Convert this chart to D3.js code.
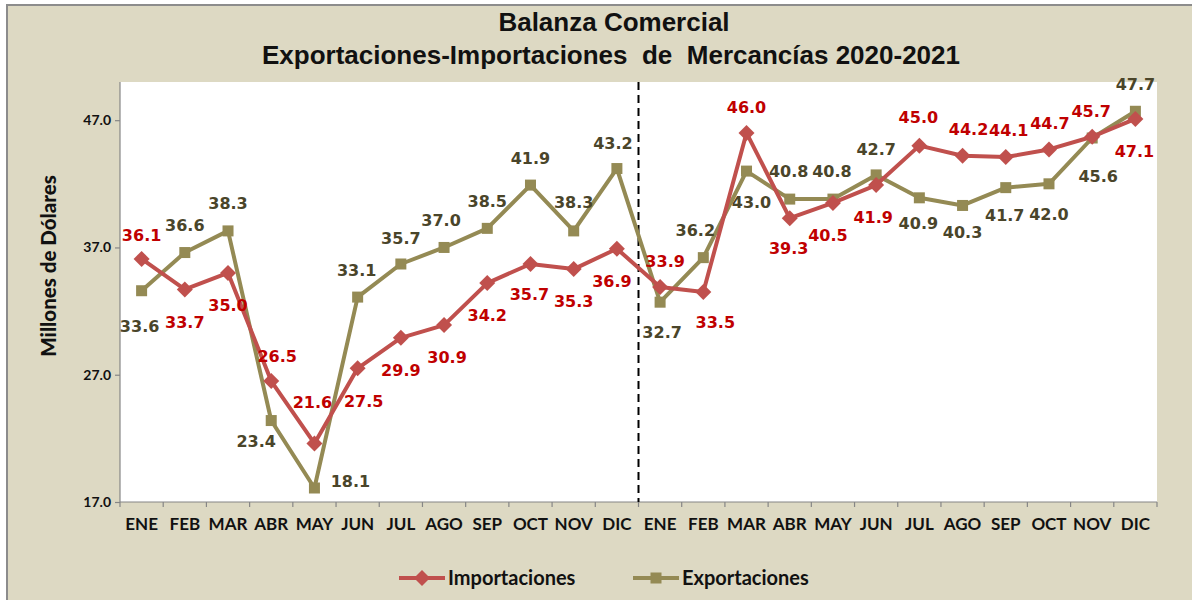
<!DOCTYPE html>
<html>
<head>
<meta charset="utf-8">
<script src="https://cdn.jsdelivr.net/npm/d3@7"></script>
<style>
  html, body { margin: 0; padding: 0; background: #ffffff; }
  svg { display: block; }
</style>
</head>
<body>
<svg id="chart" width="1192" height="600"></svg>
<script>
// Month labels for two consecutive years
const months = ["ENE","FEB","MAR","ABR","MAY","JUN","JUL","AGO","SEP","OCT","NOV","DIC",
                "ENE","FEB","MAR","ABR","MAY","JUN","JUL","AGO","SEP","OCT","NOV","DIC"];

// Monthly values, millions of dollars (2020 then 2021)
const importaciones = [36.1, 33.7, 35.0, 26.5, 21.6, 27.5, 29.9, 30.9, 34.2, 35.7, 35.3, 36.9,
                       33.9, 33.5, 46.0, 39.3, 40.5, 41.9, 45.0, 44.2, 44.1, 44.7, 45.7, 47.1];
const exportaciones = [33.6, 36.6, 38.3, 23.4, 18.1, 33.1, 35.7, 37.0, 38.5, 41.9, 38.3, 43.2,
                       32.7, 36.2, 43.0, 40.8, 40.8, 42.7, 40.9, 40.3, 41.7, 42.0, 45.6, 47.7];

const yTicks = [17, 27, 37, 47];

// Data-label placement: [dx, dy] from the marker centre
const impLabelPos = [[0,-24],[0,33],[0,32],[6,-25],[-2,-41],[6,33],[0,32],[3,32],[0,32],[-1,30],[0,32],[-5,33],
                     [5,-26],[12,30],[0,-26],[-1,30],[-5,32],[-3,32],[-1,-28],[6,-27],[3,-27],[1,-26],[-1,-25],[-1,32]];
const expLabelPos = [[-2,36],[0,-27],[0,-28],[-15,21],[36,-7],[-1,-27],[0,-26],[-3,-27],[0,-27],[0,-27],[0,-29],[-4,-25],
                     [2,30],[-8,-27],[5,31],[-1,-28],[-1,-28],[0,-26],[-1,25],[0,27],[-1,28],[0,30],[6,38],[0,-27]];

const svg = d3.select("#chart");
const W = 1192, H = 600;
const plot = { left: 120, right: 1157, top: 82, bottom: 502 };

// Chart frame
svg.append("rect").attr("x", 7).attr("y", 5).attr("width", W).attr("height", H)
  .attr("fill", "#ddd9c3").attr("stroke", "#8c8c8c").attr("stroke-width", 2);

// Plot area
svg.append("rect").attr("x", plot.left).attr("y", plot.top)
  .attr("width", plot.right - plot.left).attr("height", plot.bottom - plot.top)
  .attr("fill", "#ffffff");

// Title
const title = svg.append("text").attr("text-anchor", "middle")
  .attr("font-family", "Liberation Sans, Arial, sans-serif").attr("font-weight", "bold")
  .attr("font-size", 26).attr("fill", "#111").style("white-space", "pre");
title.append("tspan").attr("x", 614).attr("y", 31).text("Balanza Comercial");
title.append("tspan").attr("x", 611).attr("y", 64).text("Exportaciones-Importaciones  de  Mercancías 2020-2021");

const idx = d3.range(months.length);
const x = d3.scaleBand().domain(idx).range([plot.left, plot.right]).paddingInner(0).paddingOuter(0);
const cx = i => x(i) + x.bandwidth() / 2;
const y = d3.scaleLinear().domain([17, 50]).range([plot.bottom, plot.top]);

// Y axis
const yAxis = svg.append("g").attr("transform", `translate(${plot.left},0)`)
  .call(d3.axisLeft(y).tickValues(yTicks).tickFormat(d3.format(".1f")).tickSize(5).tickPadding(4));
yAxis.select(".domain").attr("stroke", "#868686").attr("stroke-width", 1.2)
  .attr("d", `M0,${plot.top}V${plot.bottom}`);
yAxis.selectAll(".tick line").attr("stroke", "#868686").attr("stroke-width", 1.2);
yAxis.selectAll(".tick text").attr("font-family", "Lato, sans-serif").attr("font-weight", "bold")
  .attr("font-size", 14).attr("fill", "#111");

// X axis: labels centred in bands, tick marks on band edges
const xAxis = svg.append("g").attr("transform", `translate(0,${plot.bottom})`)
  .call(d3.axisBottom(x).tickSize(0).tickPadding(16).tickFormat(i => months[i]));
xAxis.select(".domain").attr("stroke", "#868686").attr("stroke-width", 1.2)
  .attr("d", `M${plot.left},0H${plot.right}`);
xAxis.selectAll(".tick text").attr("font-family", "Lato, sans-serif").attr("font-weight", "bold")
  .attr("font-size", 17).attr("fill", "#111");
xAxis.selectAll(".edge").data(d3.range(months.length + 1)).join("line")
  .attr("class", "edge")
  .attr("x1", i => plot.left + i * x.step()).attr("x2", i => plot.left + i * x.step())
  .attr("y1", 0).attr("y2", 5).attr("stroke", "#868686").attr("stroke-width", 1.2);

// Y axis title
svg.append("text").attr("transform", `translate(56,${(plot.top + plot.bottom) / 2 - 26}) rotate(-90)`)
  .attr("text-anchor", "middle").attr("font-family", "Lato, sans-serif").attr("font-weight", "900")
  .attr("font-size", 20.5).attr("fill", "#111").text("Millones de Dólares");

// Year separator
const sepX = plot.left + 12 * x.step();
svg.append("line").attr("x1", sepX).attr("x2", sepX).attr("y1", plot.top).attr("y2", plot.bottom)
  .attr("stroke", "#000").attr("stroke-width", 2).attr("stroke-dasharray", "8,5");

const series = [
  { name: "Exportaciones", values: exportaciones, color: "#948a54", labelColor: "#4a452a", marker: "square", pos: expLabelPos },
  { name: "Importaciones", values: importaciones, color: "#c0504d", labelColor: "#c00000", marker: "diamond", pos: impLabelPos }
];

const line = d3.line().x((d, i) => cx(i)).y(d => y(d));
const diamondPath = "M0,-8L8,0L0,8L-8,0Z";

function drawMarker(g, type, color) {
  if (type === "square") {
    g.append("rect").attr("x", -5.5).attr("y", -5.5).attr("width", 11).attr("height", 11).attr("fill", color);
  } else {
    g.append("path").attr("d", diamondPath).attr("fill", color);
  }
}

series.forEach(s => {
  svg.append("path").datum(s.values).attr("d", line).attr("fill", "none")
    .attr("stroke", s.color).attr("stroke-width", 4).attr("stroke-linejoin", "round");
  svg.append("g").selectAll("g").data(s.values).join("g")
    .attr("transform", (d, i) => `translate(${cx(i)},${y(d)})`)
    .each(function () { drawMarker(d3.select(this), s.marker, s.color); });
});

// Data labels
series.forEach(s => {
  svg.append("g").selectAll("text").data(s.values).join("text")
    .attr("x", (d, i) => cx(i) + s.pos[i][0])
    .attr("y", (d, i) => y(d) + s.pos[i][1])
    .attr("dy", "0.36em").attr("text-anchor", "middle")
    .attr("font-family", "DejaVu Sans, sans-serif").attr("font-weight", "bold")
    .attr("font-size", 16).attr("fill", s.labelColor)
    .text(d => d3.format(".1f")(d));
});

// Legend
const legendItems = [
  { name: "Importaciones", color: "#c0504d", marker: "diamond", x0: 399 },
  { name: "Exportaciones", color: "#948a54", marker: "square", x0: 633 }
];
const lg = svg.append("g").attr("transform", "translate(0,578)");
legendItems.forEach(it => {
  const g = lg.append("g").attr("transform", `translate(${it.x0},0)`);
  g.append("line").attr("x1", 0).attr("x2", 46).attr("stroke", it.color).attr("stroke-width", 4);
  const m = g.append("g").attr("transform", "translate(23,0)");
  drawMarker(m, it.marker, it.color);
  g.append("text").attr("x", 49).attr("dy", "0.36em").attr("font-family", "Lato, sans-serif")
    .attr("font-weight", "bold").attr("font-size", 20).attr("fill", "#111").text(it.name);
});
</script>
</body>
</html>
